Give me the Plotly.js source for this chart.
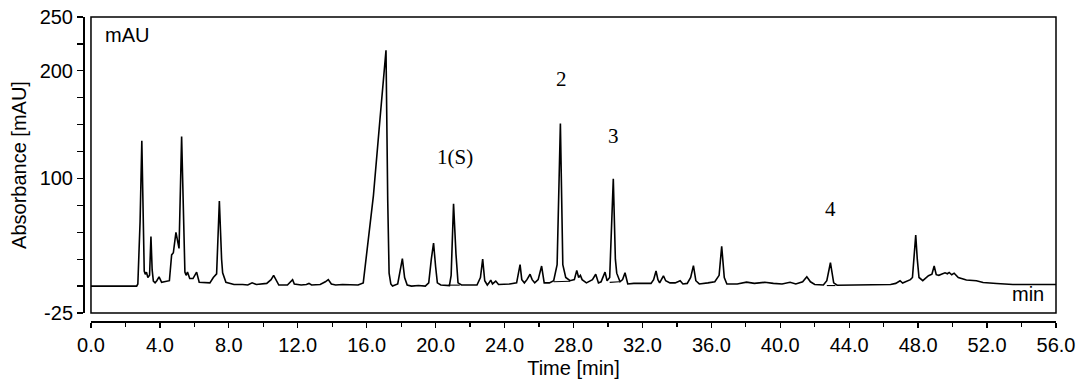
<!DOCTYPE html>
<html>
<head>
<meta charset="utf-8">
<script src="https://cdn.plot.ly/plotly-3.0.1.min.js"></script>
<style>html,body{margin:0;padding:0;background:#fff;}#chart{width:1080px;height:387px;}</style>
</head>
<body>
<div id="chart"></div>
<script>
// Retention time (min)
const time = [0,2.65,2.72,2.85,2.95,3.03,3.09,3.15,3.22,3.3,3.4,3.48,3.55,3.62,3.72,3.82,3.95,4.1,4.35,4.55,4.68,4.78,4.93,5.11,5.26,5.38,5.45,5.52,5.6,5.73,5.92,6.13,6.28,6.9,7.1,7.29,7.45,7.58,7.64,7.83,8.3,8.8,9.1,9.35,9.6,10.2,10.45,10.6,10.75,10.9,11.4,11.6,11.7,11.8,12.2,12.5,12.65,12.8,13.3,13.6,13.77,13.95,14.2,14.6,15.0,15.5,15.8,15.96,16.39,16.77,17.12,17.22,17.3,17.4,17.5,17.8,17.95,18.07,18.2,18.35,18.6,19.0,19.4,19.6,19.75,19.88,20.0,20.1,20.3,20.8,20.9,21.04,21.18,21.3,21.5,22.0,22.4,22.6,22.73,22.85,23.0,23.1,23.2,23.3,23.49,23.65,23.9,24.3,24.7,24.8,24.9,25.0,25.15,25.3,25.48,25.6,25.75,25.95,26.15,26.3,26.6,26.85,27.05,27.24,27.38,27.55,27.8,28.05,28.19,28.3,28.4,28.5,28.75,29.1,29.29,29.45,29.6,29.83,29.95,30.1,30.31,30.43,30.51,30.7,30.85,30.99,31.15,31.5,32.0,32.5,32.65,32.79,32.9,33.0,33.1,33.22,33.35,33.6,33.9,34.19,34.35,34.6,34.8,34.96,35.1,35.3,35.8,36.2,36.45,36.6,36.75,36.9,37.5,38.04,38.5,39.1,39.6,40.1,40.57,40.9,41.3,41.54,41.75,42.0,42.5,42.7,42.91,43.1,43.3,44.5,45.5,46.4,46.7,46.95,47.1,47.3,47.55,47.67,47.78,47.86,47.95,48.05,48.27,48.45,48.6,48.8,48.93,49.05,49.2,49.35,49.56,49.7,49.8,49.95,50.09,50.33,50.8,51.38,51.77,52.55,53.5,56];
// Absorbance (mAU)
const absorbance = [0,0,2,60,135,50,14,11,13,8,10,46,15,4.6,3,5,8.5,3.5,4,5,29,31,50,35,139,40,13,10,13,7,7,13,3.6,3,8,11.4,79,25,12.4,3.5,1.5,1.5,1,3,1.5,2.5,6,10,5,1,1,4,6,2,1,1.5,2.5,1,1.5,4,6,2,1,1.5,1,1,3,24,84,155,219,80,12,2,0,2,15,25.5,8,1,0,0.5,0,3,25,40,18,3,1,0.5,10,76.5,30,3,1,1,1,8,25,5,1,3,5.5,2,4.7,1.5,1.5,2,3,10,20,6,3,6,11,6,3,6,18.6,3,3,5,20,151,20,8,5,6,14.6,8,10,6,3,6,11,3,4,13,5,8,99.8,25,12,4,6,12.4,2,2.5,2.5,2.5,6,14,6,3,6,9.6,5,3,3,5,2,2.5,8,19,5,2,3,4,10,37,8,2,2,3.7,2.5,3.5,2.5,2,3.5,2,4,8.7,4,1.5,1,5,21.7,3,0.8,0.8,1,1.5,2.5,5,2.8,4,6,8,30,47.4,25,8,5,8,9.6,11,18.7,10.6,10,11,12.4,11.5,12.7,10.5,12,8,5.6,5,3.4,2.4,1.5,1.5];
// Integration baselines under labelled peaks (null separates segments)
const baseTime = [20.74,21.4,null,26.85,27.8,null,30.1,30.66,null,42.7,43.2];
const baseAbs  = [0.9,0.9,null,4,4.5,null,3.5,4,null,0.5,0.5];
// Peak labels
const peakLabels = ["1(S)","2","3","4"];
const peakLabelTime = [21.13,27.28,30.35,42.89];
const peakLabelAbs = [119.6,192,139,71.3];
// Axis ticks
const yTickVals = [-25,0,25,50,75,100,125,150,175,200,225,250];
const yTickText = ["-25","","","","","100","","","","200","","250"];

const sans = "Liberation Sans, Arial, sans-serif";
const serif = "Liberation Serif, Times New Roman, serif";

const traces = [
  {x: time, y: absorbance, type: "scatter", mode: "lines",
   line: {color: "#000", width: 1.6}, hoverinfo: "skip", showlegend: false},
  {x: baseTime, y: baseAbs, type: "scatter", mode: "lines",
   line: {color: "#000", width: 1.1}, connectgaps: false, hoverinfo: "skip", showlegend: false}
];

const annotations = peakLabels.map((t, i) => ({
  x: peakLabelTime[i], y: peakLabelAbs[i], xref: "x", yref: "y", text: t,
  showarrow: false, font: {family: serif, size: 21, color: "#000"}
}));
annotations.push({x: 0.68, y: 233, xref: "x", yref: "y", text: "mAU", showarrow: false,
  xanchor: "left", font: {family: sans, size: 20, color: "#000"}});
annotations.push({x: 54.38, y: -7.5, xref: "x", yref: "y", text: "min", showarrow: false,
  font: {family: sans, size: 20, color: "#000"}});

const layout = {
  width: 1080, height: 387,
  margin: {l: 83, r: 24, t: 17, b: 66, pad: 0},
  paper_bgcolor: "#fff", plot_bgcolor: "#fff",
  showlegend: false,
  font: {family: sans, size: 20, color: "#000"},
  xaxis: {
    domain: [0.0082, 1], anchor: "free", position: 0,
    range: [0, 56], tick0: 0, dtick: 4, tickformat: ".1f",
    ticks: "outside", ticklen: 5, tickwidth: 1.3, tickcolor: "#000",
    minor: {dtick: 2, ticks: "outside", ticklen: 4, tickwidth: 1.3, tickcolor: "#000", showgrid: false},
    showline: true, linewidth: 1.5, linecolor: "#000",
    showgrid: false, zeroline: false,
    tickfont: {family: sans, size: 20, color: "#000"},
    title: {text: "Time [min]", font: {family: sans, size: 20, color: "#000"}, standoff: 6}
  },
  yaxis: {
    domain: [0.0263, 1], anchor: "free", position: 0,
    range: [-25, 250], tickmode: "array", tickvals: yTickVals, ticktext: yTickText,
    ticks: "outside", ticklen: 6, tickwidth: 1.3, tickcolor: "#000",
    showline: true, linewidth: 1.5, linecolor: "#000",
    showgrid: false, zeroline: false,
    tickfont: {family: sans, size: 20, color: "#000"},
    title: {text: "Absorbance [mAU]", font: {family: sans, size: 20, color: "#000"}, standoff: 6}
  },
  shapes: [{type: "rect", xref: "x domain", yref: "y domain", x0: 0, x1: 1, y0: 0, y1: 1,
            line: {color: "#000", width: 1.5}, fillcolor: "rgba(0,0,0,0)"}],
  annotations: annotations
};

Plotly.newPlot("chart", traces, layout, {displayModeBar: false, staticPlot: true});
</script>
</body>
</html>
